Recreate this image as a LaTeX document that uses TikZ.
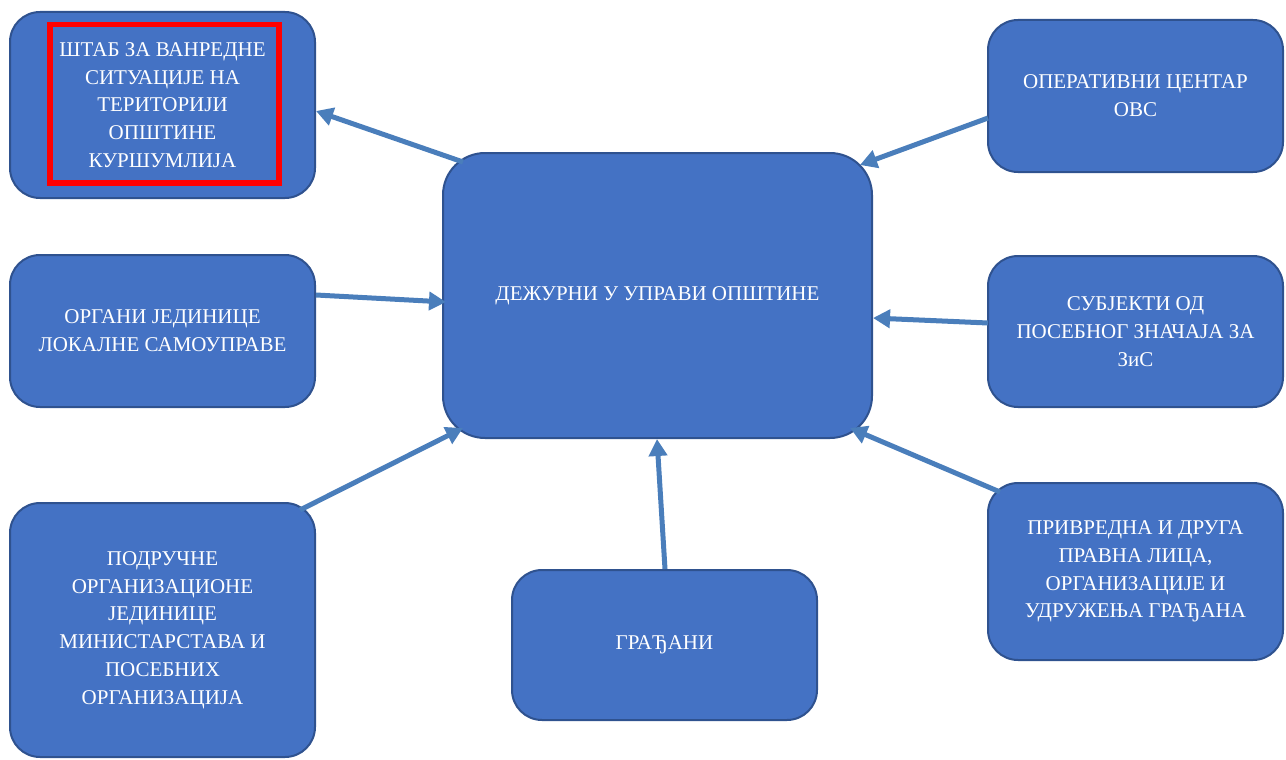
\documentclass[tikz,border=0pt]{standalone}
\usepackage{fontspec}
\setmainfont{Liberation Serif}
\usetikzlibrary{arrows.meta}
\definecolor{boxfill}{HTML}{4472C4}
\definecolor{boxline}{HTML}{2F528F}
\definecolor{arrowblue}{HTML}{4A7EBB}
\definecolor{hlred}{HTML}{FF0000}
\tikzset{
  box/.style={draw=boxline, line width=2pt, fill=boxfill, rounded corners=30pt,
    inner sep=0pt, text=white, align=center,
    font=\fontsize{21}{27.8}\selectfont},
  bigbox/.style={box, rounded corners=42pt},
  arr/.style={draw=arrowblue, line width=5pt,
    -{Triangle[length=17pt,width=18pt]}, shorten >=0pt},
  hilite/.style={draw=hlred, line width=5.5pt}
}
\begin{document}
\begin{tikzpicture}[x=1pt,y=-1pt]
\useasboundingbox (0,0) rectangle (1286,760);
% nodes
\node[box, minimum width=305pt, minimum height=186pt] (A) at (162.5,105)
  {ШТАБ ЗА ВАНРЕДНЕ\\СИТУАЦИЈЕ НА\\ТЕРИТОРИЈИ\\ОПШТИНЕ\\КУРШУМЛИЈА};
\node[box, minimum width=295pt, minimum height=152pt] (B) at (1135.5,96)
  {ОПЕРАТИВНИ ЦЕНТАР\\ОВС};
\node[bigbox, minimum width=429pt, minimum height=285pt] (M) at (657.5,295.5)
  {ДЕЖУРНИ У УПРАВИ ОПШТИНЕ};
\node[box, minimum width=305pt, minimum height=152pt] (C) at (162.5,331)
  {ОРГАНИ ЈЕДИНИЦЕ\\ЛОКАЛНЕ САМОУПРАВЕ};
\node[box, minimum width=295pt, minimum height=151pt] (D) at (1135.5,331.5)
  {СУБЈЕКТИ ОД\\ПОСЕБНОГ ЗНАЧАЈА ЗА\\ЗиС};
\node[box, minimum width=305pt, minimum height=254pt] (E) at (162.5,630)
  {ПОДРУЧНЕ\\ОРГАНИЗАЦИОНЕ\\ЈЕДИНИЦЕ\\МИНИСТАРСТАВА И\\ПОСЕБНИХ\\ОРГАНИЗАЦИЈА};
\node[box, minimum width=305pt, minimum height=150pt] (F) at (664.5,645)
  {ГРАЂАНИ};
\node[box, minimum width=295pt, minimum height=177pt] (G) at (1135.5,571.5)
  {ПРИВРЕДНА И ДРУГА\\ПРАВНА ЛИЦА,\\ОРГАНИЗАЦИЈЕ И\\УДРУЖЕЊА ГРАЂАНА};
% highlight frame
\node[hilite, minimum width=229pt, minimum height=158.5pt, inner sep=0pt] (H) at (164.5,103.75) {};
% connector end points
\coordinate (mA) at (463,162);
\coordinate (tA) at (316,111);
\coordinate (sB) at (988,118);
\coordinate (mB) at (860,165);
\coordinate (sC) at (316,295);
\coordinate (mC) at (446,302);
\coordinate (sD) at (988,323);
\coordinate (mD) at (873,318);
\coordinate (sE) at (300,510);
\coordinate (mE) at (463,428);
\coordinate (sF) at (665,569);
\coordinate (mF) at (657,439);
\coordinate (sG) at (1000,492);
\coordinate (mG) at (850,428);
% connectors
\draw[arr] (mA) -- (tA);
\draw[arr] (sB) -- (mB);
\draw[arr] (sC) -- (mC);
\draw[arr] (sD) -- (mD);
\draw[arr] (sE) -- (mE);
\draw[arr] (sF) -- (mF);
\draw[arr] (sG) -- (mG);
\end{tikzpicture}
\end{document}
